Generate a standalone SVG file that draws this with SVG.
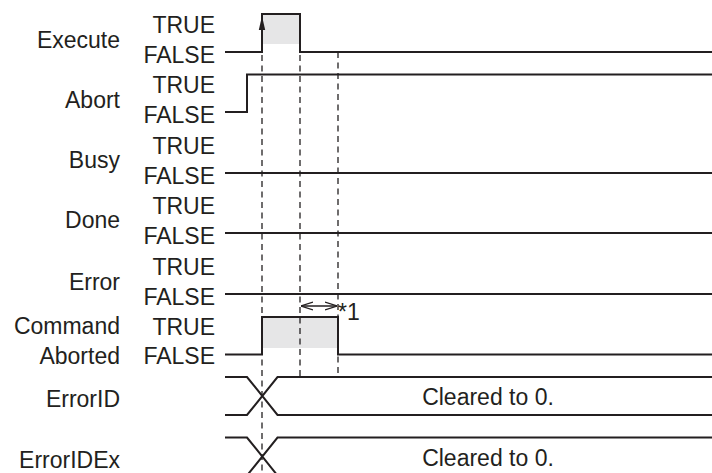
<svg xmlns="http://www.w3.org/2000/svg" width="712" height="473" viewBox="0 0 712 473">
<style>
text{font-family:"Liberation Sans",Arial,sans-serif;font-size:23px;fill:#231f20}
.r{text-anchor:end}
.c{text-anchor:middle}
.sig{fill:none;stroke:#231f20;stroke-width:2;stroke-linejoin:miter}
.dash{fill:none;stroke:#231f20;stroke-width:1.3;stroke-dasharray:6 4.5}
.thin{fill:none;stroke:#231f20;stroke-width:1.3}
.fillg{fill:#e6e6e7}
</style>
<defs>
<marker id="open" viewBox="0 0 12 10" refX="12" refY="5" markerWidth="12" markerHeight="10" markerUnits="userSpaceOnUse" orient="auto-start-reverse">
<path d="M0,1 L12,5 L0,9" fill="none" stroke="#231f20" stroke-width="1.3"/>
</marker>
</defs>
<rect width="712" height="473" fill="#fff"/>

<g id="execute">
<rect class="fillg" x="263" y="15" width="37" height="29"/>
<text class="r" x="120" y="48">Execute</text>
<text class="r" x="215" y="33">TRUE</text>
<text class="r" x="215" y="63">FALSE</text>
<path class="sig" d="M225,52 H262 V14 H300 V52 H712"/>
<polygon points="262,16 258.8,30 265.2,30" fill="#231f20"/>
</g>

<g id="abort">
<text class="r" x="120" y="108">Abort</text>
<text class="r" x="215" y="93">TRUE</text>
<text class="r" x="215" y="123">FALSE</text>
<path class="sig" d="M225,112 H247 V74.5 H712"/>
</g>

<g id="busy">
<text class="r" x="120" y="168">Busy</text>
<text class="r" x="215" y="154">TRUE</text>
<text class="r" x="215" y="184">FALSE</text>
<path class="sig" d="M225,173 H712"/>
</g>

<g id="done">
<text class="r" x="120" y="228">Done</text>
<text class="r" x="215" y="214">TRUE</text>
<text class="r" x="215" y="244">FALSE</text>
<path class="sig" d="M225,233 H712"/>
</g>

<g id="error">
<text class="r" x="120" y="290">Error</text>
<text class="r" x="215" y="275">TRUE</text>
<text class="r" x="215" y="305">FALSE</text>
<path class="sig" d="M225,294 H712"/>
</g>

<g id="commandaborted">
<rect class="fillg" x="263" y="318" width="74" height="30"/>
<text class="r" x="120" y="334">Command</text>
<text class="r" x="120" y="364">Aborted</text>
<text class="r" x="215" y="335">TRUE</text>
<text class="r" x="215" y="364">FALSE</text>
<path class="sig" d="M225,354.5 H262 V317 H338 V354.5 H712"/>
</g>

<g id="errorid">
<text class="r" x="120" y="407">ErrorID</text>
<path class="sig" d="M225,377 H247 L277.5,415 H712 M225,415 H247 L277.5,377 H712"/>
<text class="c" x="488" y="405">Cleared to 0.</text>
</g>

<g id="erroridex">
<text class="r" x="120" y="468">ErrorIDEx</text>
<path class="sig" d="M225,437.5 H247 L277.5,475.5 H712 M225,475.5 H247 L277.5,437.5 H712"/>
<text class="c" x="488" y="466">Cleared to 0.</text>
</g>

<g id="connectors">
<line class="dash" x1="262" y1="55" x2="262" y2="473"/>
<line class="dash" x1="300" y1="55" x2="300" y2="377"/>
<line class="dash" x1="338" y1="52" x2="338" y2="377"/>
<line class="thin" x1="301" y1="306" x2="337" y2="306" marker-start="url(#open)" marker-end="url(#open)"/>
<text x="338" y="320">*1</text>
</g>
</svg>
